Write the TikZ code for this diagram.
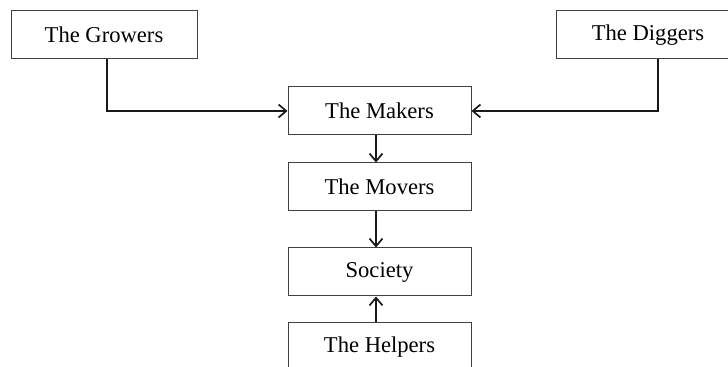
\documentclass[tikz,border=0pt]{standalone}
\usepackage{fontspec}
\setmainfont{Liberation Serif}
\usepackage{tikz}
\usetikzlibrary{positioning,arrows.meta}

\tikzset{
  box/.style={draw=black!75, line width=0.5pt, minimum width=91.5pt, minimum height=24pt, inner sep=0pt, font=\fontsize{11.3}{13}\selectfont},
  link/.style={line width=0.85pt, black!90, -{Straight Barb[length=3.8pt,width=6.5pt]}}
}

\begin{document}
\begin{tikzpicture}[x=0.5pt,y=-0.5pt]
    \useasboundingbox (0,0) rectangle (728,367);
    \clip (0,0) rectangle (728,367);

    % sources at the top
    \node[box, minimum width=93pt] (growers) at (104,34.5) {The Growers};
    \node[box, minimum width=102pt] (diggers) at (658,35) {\hspace*{-10pt}The Diggers};

    % middle column
    \node[box] (makers) at (379.5,111) {The Makers};
    \node[box] (movers) at (379.5,187) {The Movers};
    \node[box] (society) at (379.5,272) {Society};
    \node[box] (helpers) at (379.5,347) {The Helpers};

    % connectors
    \draw[link] ([xshift=1.5pt]growers.south) |- (makers.west);
    \draw[link] (diggers.south) |- (makers.east);
    \draw[link] ([xshift=-1.75pt]makers.south) -- ([xshift=-1.75pt]movers.north);
    \draw[link] ([xshift=-1.75pt]movers.south) -- ([xshift=-1.75pt]society.north);
    \draw[link] ([xshift=-1.75pt]helpers.north) -- ([xshift=-1.75pt]society.south);
\end{tikzpicture}
\end{document}
